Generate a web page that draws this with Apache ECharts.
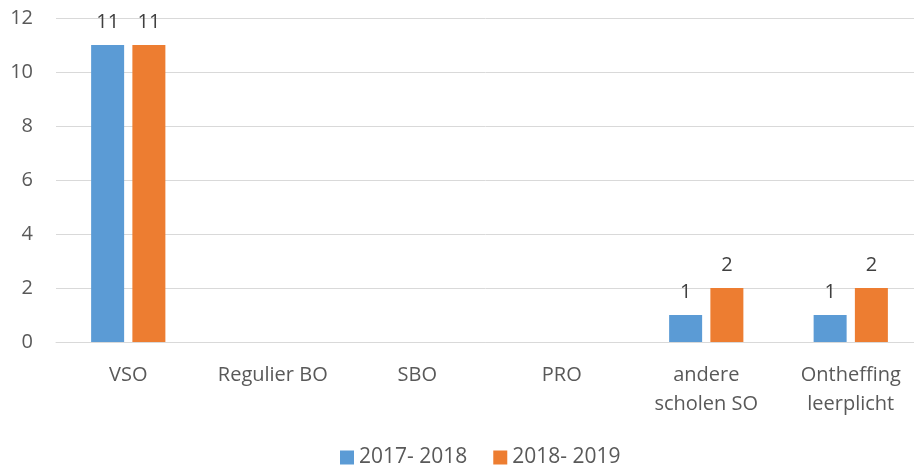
<!DOCTYPE html>
<html>
<head>
<meta charset="utf-8">
<script src="https://cdn.jsdelivr.net/npm/echarts@6/dist/echarts.min.js"></script>
<style>
  html, body { margin: 0; padding: 0; background: #fff; }
  #chart { width: 914px; height: 473px; }
</style>
</head>
<body>
<div id="chart"></div>
<script>
// categorieën en waarden
const categories = ["VSO", "Regulier BO", "SBO", "PRO", "andere\nscholen SO", "Ontheffing\nleerplicht"];
const series2017 = [11, 0, 0, 0, 1, 1];
const series2018 = [11, 0, 0, 0, 2, 2];
const seriesNames = ["2017- 2018", "2018- 2019"];
const colors = ["#5B9BD5", "#ED7D31"];

const FONT = "'Open Sans', sans-serif";

const chart = echarts.init(document.getElementById("chart"), null, { renderer: "canvas" });

const makeSeries = (name, data, color) => ({
  name: name,
  type: "bar",
  data: data,
  barWidth: 33,
  barGap: "25%",
  itemStyle: { color: color },
  label: {
    show: true,
    position: "top",
    distance: 13,
    color: "#404040",
    fontFamily: FONT,
    fontSize: 20,
    // nullwaarden geen label
    formatter: (p) => (p.value === 0 ? "" : p.value),
  },
});

chart.setOption({
  animation: false,
  color: colors,
  textStyle: { fontFamily: FONT },
  // plotgebied loopt in het origineel iets voorbij de rechterrand
  grid: { left: 56, right: -9, top: 18, bottom: 131, outerBoundsMode: "none", containLabel: false },
  legend: {
    bottom: 0,
    left: 335,
    itemWidth: 14,
    itemHeight: 14,
    itemGap: 26,
    itemTextGap: 6,
    icon: "rect",
    textStyle: { color: "#595959", fontSize: 21, fontFamily: FONT },
    data: seriesNames,
  },
  xAxis: {
    type: "category",
    data: categories,
    axisLine: { lineStyle: { color: "#D9D9D9", width: 1 } },
    axisTick: { show: false },
    axisLabel: {
      color: "#595959",
      fontSize: 20,
      fontFamily: FONT,
      margin: 19,
      lineHeight: 29,
      interval: 0,
    },
  },
  yAxis: {
    type: "value",
    min: 0,
    max: 12,
    interval: 2,
    axisLine: { show: false },
    axisTick: { show: false },
    splitLine: { lineStyle: { color: "#D9D9D9", width: 1 } },
    axisLabel: { color: "#595959", fontSize: 20, fontFamily: FONT, margin: 23 },
  },
  series: [
    makeSeries(seriesNames[0], series2017, colors[0]),
    makeSeries(seriesNames[1], series2018, colors[1]),
  ],
});
</script>
</body>
</html>
